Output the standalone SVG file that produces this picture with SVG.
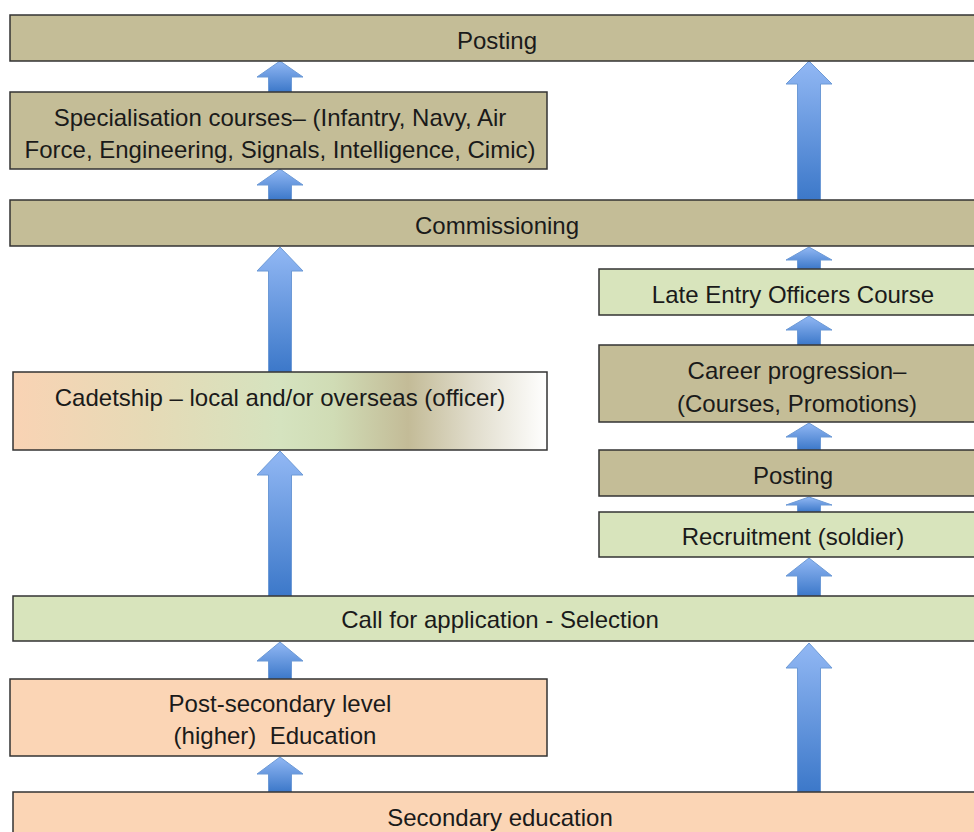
<svg xmlns="http://www.w3.org/2000/svg" width="974" height="832" viewBox="0 0 974 832">
<defs>
<linearGradient id="arrowGrad" x1="0" y1="0" x2="0" y2="1">
<stop offset="0" stop-color="#92B8F4"/>
<stop offset="1" stop-color="#3C78C9"/>
</linearGradient>
<linearGradient id="cadetGrad" x1="0" y1="0" x2="1" y2="0">
<stop offset="0" stop-color="#F9D3B4"/>
<stop offset="0.25" stop-color="#E6DAB6"/>
<stop offset="0.5" stop-color="#D5E3BF"/>
<stop offset="0.6" stop-color="#D0DCB5"/>
<stop offset="0.74" stop-color="#C3BB97"/>
<stop offset="0.86" stop-color="#E0DCCB"/>
<stop offset="1" stop-color="#FFFFFF"/>
</linearGradient>
</defs>
<style>
.box{stroke:#333333;stroke-width:1.5}
.tan{fill:#C4BD97}
.peach{fill:#FBD5B5}
.green{fill:#D8E4BC}
.cadet{fill:url(#cadetGrad)}
.arrow{fill:url(#arrowGrad);stroke:#6D9AD6;stroke-width:1}
text{font-family:"Liberation Sans",Arial,sans-serif;font-size:24px;fill:#1A1A1A;text-anchor:middle;dominant-baseline:central}
</style>
<rect width="974" height="832" fill="#FFFFFF"/>

<g id="connectors">
<path class="arrow" d="M280,61 L303,77 L291.5,77 L291.5,92 L268.5,92 L268.5,77 L257,77 Z"/>
<path class="arrow" d="M280,169 L303,185 L291.5,185 L291.5,200 L268.5,200 L268.5,185 L257,185 Z"/>
<path class="arrow" d="M280,247 L303,271 L291.5,271 L291.5,372 L268.5,372 L268.5,271 L257,271 Z"/>
<path class="arrow" d="M280,451 L303,475 L291.5,475 L291.5,596 L268.5,596 L268.5,475 L257,475 Z"/>
<path class="arrow" d="M280,642 L303,661 L291.5,661 L291.5,679 L268.5,679 L268.5,661 L257,661 Z"/>
<path class="arrow" d="M280,757 L303,774 L291.5,774 L291.5,792 L268.5,792 L268.5,774 L257,774 Z"/>
<path class="arrow" d="M809,61 L832,84 L820.5,84 L820.5,200 L797.5,200 L797.5,84 L786,84 Z"/>
<path class="arrow" d="M809,247 L832,260 L820.5,260 L820.5,269 L797.5,269 L797.5,260 L786,260 Z"/>
<path class="arrow" d="M809,316 L832,330 L820.5,330 L820.5,345 L797.5,345 L797.5,330 L786,330 Z"/>
<path class="arrow" d="M809,423 L832,437 L820.5,437 L820.5,450 L797.5,450 L797.5,437 L786,437 Z"/>
<path class="arrow" d="M809,497 L832,505 L820.5,505 L820.5,512 L797.5,512 L797.5,505 L786,505 Z"/>
<path class="arrow" d="M809,558 L832,576 L820.5,576 L820.5,596 L797.5,596 L797.5,576 L786,576 Z"/>
<path class="arrow" d="M809,643 L832,668 L820.5,668 L820.5,792 L797.5,792 L797.5,668 L786,668 Z"/>
</g>

<g id="posting-top">
<rect class="box tan" x="10" y="15" width="975" height="46"/>
<text x="497" y="40">Posting</text>
</g>
<g id="specialisation">
<rect class="box tan" x="10" y="92" width="537" height="77"/>
<text x="280" y="117">Specialisation courses– (Infantry, Navy, Air</text>
<text x="280" y="149">Force, Engineering, Signals, Intelligence, Cimic)</text>
</g>
<g id="commissioning">
<rect class="box tan" x="10" y="200" width="975" height="46"/>
<text x="497" y="225">Commissioning</text>
</g>
<g id="cadetship">
<rect class="box cadet" x="13" y="372" width="534" height="78"/>
<text x="280" y="397">Cadetship – local and/or overseas (officer)</text>
</g>
<g id="call-for-application">
<rect class="box green" x="13" y="596" width="972" height="45"/>
<text x="500" y="619">Call for application - Selection</text>
</g>
<g id="post-secondary">
<rect class="box peach" x="10" y="679" width="537" height="77"/>
<text x="280" y="703">Post-secondary level</text>
<text x="275" y="735">(higher)&#160; Education</text>
</g>
<g id="secondary">
<rect class="box peach" x="13" y="792" width="972" height="50"/>
<text x="500" y="817">Secondary education</text>
</g>
<g id="late-entry">
<rect class="box green" x="599" y="269" width="386" height="46"/>
<text x="793" y="294">Late Entry Officers Course</text>
</g>
<g id="career-progression">
<rect class="box tan" x="599" y="345" width="386" height="77"/>
<text x="797" y="370">Career progression–</text>
<text x="797" y="403">(Courses, Promotions)</text>
</g>
<g id="posting-right">
<rect class="box tan" x="599" y="450" width="386" height="46"/>
<text x="793" y="475">Posting</text>
</g>
<g id="recruitment">
<rect class="box green" x="599" y="512" width="386" height="45"/>
<text x="793" y="536">Recruitment (soldier)</text>
</g>
</svg>
